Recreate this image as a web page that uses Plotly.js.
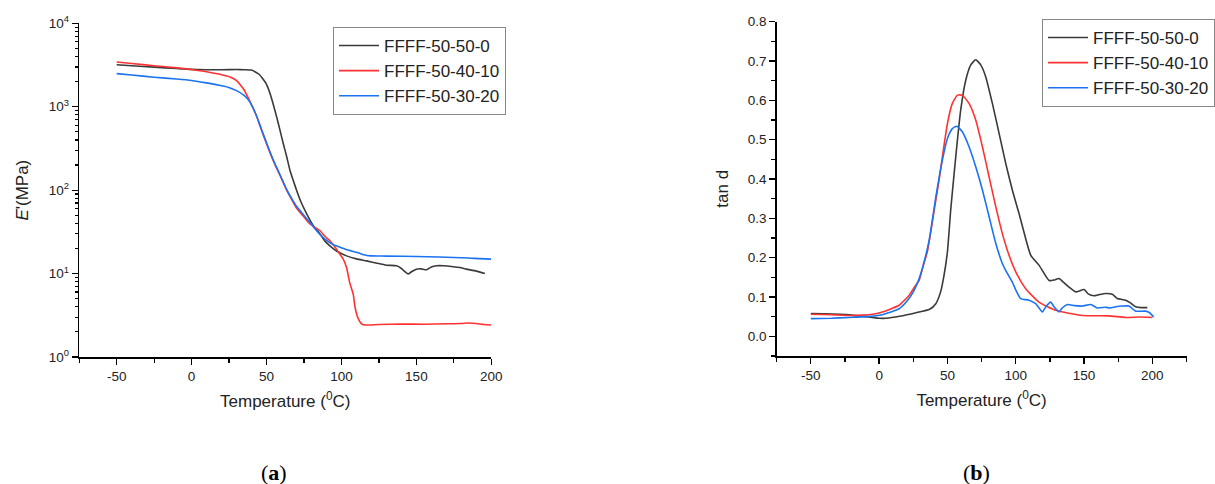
<!DOCTYPE html>
<html>
<head>
<meta charset="utf-8">
<script src="https://cdn.plot.ly/plotly-3.0.1.min.js"></script>
<style>html,body{margin:0;padding:0;background:#fff;}#chart{width:1215px;height:484px;}</style>
</head>
<body>
<div id="chart"></div>
<script>
// ---------- (a) Storage modulus E' (MPa) vs temperature ----------
const seriesNames = ['FFFF-50-50-0', 'FFFF-50-40-10', 'FFFF-50-30-20'];

const eT_50_50_0 = [-50,-40,-25,-10,0,10,20,30,35,40,45,48,50,52,54,56.8,59,61.2,63.5,65.7,68,70.1,73,76.8,81,85.6,89,92.3,97,103.4,110,116.8,123,130,136.8,140,142.5,144.5,147,150,153,156.8,160,163.5,168,174.6,179,183.4,190,195.7];
const eV_50_50_0 = [3190,3100,2980,2870,2800,2780,2780,2790,2780,2750,2450,2100,1850,1500,1150,750,520,360,250,171,128,99,72,52,38,30,24.5,21.5,18.5,16.3,15,14.2,13.4,12.6,12.4,11.5,10.5,9.9,10.6,11.3,11.4,11.1,12,12.4,12.4,12.1,11.8,11.3,10.7,10.0];

const eT_50_40_10 = [-50,-40,-25,-10,0,10,20,25.7,30,32.3,35,38,40.6,43,45.5,48,50.5,53,56,59,63.4,67,70,74.5,78,81,85.7,89,92.3,96.8,99,101.1,103.4,105.5,107.9,109,110.5,112.3,114,116,125,140,155,170,180,185,190,195,200];
const eV_50_40_10 = [3430,3300,3100,2920,2800,2620,2420,2265,2050,1850,1600,1250,1000,800,600,450,340,260,195,150,100,76,61,49,41,37,32.6,28,24.7,19.5,17,15,11.8,7.8,5.6,4.0,3.1,2.65,2.45,2.42,2.45,2.48,2.47,2.5,2.52,2.56,2.52,2.45,2.42];

const eT_50_30_20 = [-50,-40,-25,-10,0,10,20,25.2,30,35,38,40.6,43,45.5,48,50.5,53,56,59,63.4,67,70,74.5,78,81.6,86,90.5,95,99.4,105,110.6,115,119.4,130,150,165,175,185,192,200];
const eV_50_30_20 = [2490,2400,2260,2150,2065,1930,1780,1690,1560,1365,1200,1000,800,610,460,350,268,200,153,102,78,64,51,43,35.7,29,24.7,22,20.6,19,17.9,16.8,16.3,16.2,16.0,15.8,15.6,15.4,15.1,14.9];

// ---------- (b) tan d vs temperature ----------
const tT_50_50_0 = [-50,-40,-29,-20,-10,-5,0,5,15,27,37,41.5,45,47.5,50,52.4,54.9,57.3,59.7,63.4,67.1,70.7,74.4,78,82.9,87.8,92.7,97.5,102.4,106,111,117,124.4,128,131.7,135,139,143.9,150,153,157.3,161,165.8,170.7,174.3,180.5,184,187.8,192,196.3];
const tV_50_50_0 = [0.058,0.057,0.056,0.054,0.050,0.048,0.046,0.046,0.051,0.060,0.069,0.083,0.113,0.155,0.215,0.321,0.414,0.499,0.575,0.651,0.690,0.703,0.690,0.660,0.592,0.516,0.439,0.372,0.312,0.265,0.206,0.181,0.142,0.143,0.147,0.137,0.125,0.113,0.119,0.108,0.103,0.106,0.109,0.107,0.096,0.092,0.085,0.075,0.073,0.073];

const tT_50_40_10 = [-50,-35,-22,-12,-5,2.4,8,14.6,21.9,26.8,29.3,31.7,35.3,38,41.5,44,46.3,50,53.6,57.3,60.9,65.8,70.7,75.6,80.5,85.4,90.2,95.1,100,107.3,117,129.3,148.7,168.2,180.5,190,200];
const tV_50_40_10 = [0.056,0.055,0.053,0.054,0.056,0.062,0.069,0.079,0.104,0.130,0.142,0.172,0.215,0.270,0.346,0.400,0.456,0.541,0.592,0.613,0.613,0.592,0.550,0.482,0.405,0.329,0.261,0.206,0.164,0.121,0.087,0.066,0.053,0.052,0.048,0.049,0.048];

const tT_50_30_20 = [-50,-35,-22,-10,2.4,8,14.6,20,24.4,29.3,32.9,36.6,41.5,46.3,50,53.6,56.8,60.9,65.8,70.7,75.6,80.5,85.4,90.2,93,97.5,100,103.6,109.7,114.6,119.5,122,125.6,128,131.7,134,137.8,143,148.7,154.9,159.7,165.8,169,173.2,178,182.9,187.8,195.1,198,201];
const tV_50_30_20 = [0.045,0.046,0.048,0.050,0.055,0.061,0.070,0.088,0.109,0.147,0.189,0.244,0.354,0.448,0.503,0.528,0.534,0.520,0.482,0.431,0.372,0.304,0.236,0.185,0.165,0.138,0.118,0.096,0.092,0.083,0.062,0.075,0.087,0.075,0.062,0.072,0.081,0.078,0.077,0.081,0.072,0.074,0.072,0.075,0.077,0.077,0.064,0.064,0.060,0.049];

// Axis tick labels
const tempTickVals = [-50, 0, 50, 100, 150, 200];
const tempTickText = ['-50', '0', '50', '100', '150', '200'];
const tanTickVals = [0, 0.1, 0.2, 0.3, 0.4, 0.5, 0.6, 0.7, 0.8];
const tanTickText = ['0.0', '0.1', '0.2', '0.3', '0.4', '0.5', '0.6', '0.7', '0.8'];
const logTickVals = [1, 10, 100, 1000, 10000];
const logTickText = ['10<sup>0</sup>', '10<sup>1</sup>', '10<sup>2</sup>', '10<sup>3</sup>', '10<sup>4</sup>'];
const logMinorVals = [];
for (let d = 0; d < 4; d++) for (let k = 2; k <= 9; k++) logMinorVals.push(k * Math.pow(10, d));

const colors = ['#3a3a3a', '#ff3232', '#1a73f0'];
const FONT = 'Liberation Sans, Arial, sans-serif';

function tr(x, y, i, xa, ya, lg) {
  return {x: x, y: y, name: seriesNames[i], type: 'scatter', mode: 'lines',
    line: {color: colors[i], width: 1.6, shape: 'spline', smoothing: 0.5},
    xaxis: xa, yaxis: ya, legend: lg};
}

const data = [
  tr(eT_50_50_0, eV_50_50_0, 0, 'x', 'y', 'legend'),
  tr(eT_50_40_10, eV_50_40_10, 1, 'x', 'y', 'legend'),
  tr(eT_50_30_20, eV_50_30_20, 2, 'x', 'y', 'legend'),
  tr(tT_50_50_0, tV_50_50_0, 0, 'x2', 'y2', 'legend2'),
  tr(tT_50_40_10, tV_50_40_10, 1, 'x2', 'y2', 'legend2'),
  tr(tT_50_30_20, tV_50_30_20, 2, 'x2', 'y2', 'legend2')
];

const axBase = {showgrid: false, zeroline: false, showline: true, linecolor: '#000', linewidth: 1.5,
  ticks: 'outside', ticklen: 6, tickwidth: 1.3, tickcolor: '#000',
  tickfont: {family: FONT, size: 13.5, color: '#222'}, mirror: false};
const minorX = {dtick: 25, tick0: -75, ticks: 'outside', ticklen: 4, tickwidth: 1.2, tickcolor: '#000', showgrid: false};

const W = 1215, H = 484;
const layout = {
  width: W, height: H,
  margin: {l: 0, r: 0, t: 0, b: 0},
  paper_bgcolor: '#fff', plot_bgcolor: '#fff',
  font: {family: FONT, color: '#222'},
  xaxis: Object.assign({}, axBase, {
    domain: [79.3 / W, 491.7 / W], anchor: 'y', range: [-75, 200],
    tickmode: 'array', tickvals: tempTickVals, ticktext: tempTickText, minor: minorX,
    title: {text: 'Temperature (<sup>0</sup>C)', font: {family: FONT, size: 17, color: '#222'}, standoff: 12}
  }),
  yaxis: Object.assign({}, axBase, {
    domain: [1 - 357 / H, 1 - 23.3 / H], anchor: 'x', type: 'log', range: [0, 4],
    tickmode: 'array', tickvals: logTickVals, ticktext: logTickText,
    minor: {tickmode: 'array', tickvals: logMinorVals, ticks: 'outside', ticklen: 3, tickwidth: 1.2, tickcolor: '#000', showgrid: false},
    title: {text: "<i>E</i>'(MPa)", font: {family: FONT, size: 17, color: '#222'}, standoff: 16}
  }),
  xaxis2: Object.assign({}, axBase, {
    domain: [777.3 / W, 1187.5 / W], anchor: 'y2', range: [-75, 225],
    tickmode: 'array', tickvals: tempTickVals, ticktext: tempTickText, minor: minorX,
    title: {text: 'Temperature (<sup>0</sup>C)', font: {family: FONT, size: 17, color: '#222'}, standoff: 12}
  }),
  yaxis2: Object.assign({}, axBase, {
    domain: [1 - 356 / H, 1 - 21.6 / H], anchor: 'x2', range: [-0.05, 0.8],
    tickmode: 'array', tickvals: tanTickVals, ticktext: tanTickText,
    minor: {dtick: 0.05, tick0: -0.05, ticks: 'outside', ticklen: 4, tickwidth: 1.2, tickcolor: '#000', showgrid: false},
    title: {text: 'tan d', font: {family: FONT, size: 17, color: '#222'}, standoff: 14}
  }),
  legend: {x: 333 / W, y: 1 - 27 / H, xanchor: 'left', yanchor: 'top',
    bgcolor: '#fff', bordercolor: '#888', borderwidth: 1,
    font: {family: FONT, size: 17, color: '#222'}, tracegroupgap: 0, itemwidth: 40},
  legend2: {x: 1043 / W, y: 1 - 19 / H, xanchor: 'left', yanchor: 'top',
    bgcolor: '#fff', bordercolor: '#888', borderwidth: 1,
    font: {family: FONT, size: 17, color: '#222'}, tracegroupgap: 0, itemwidth: 40},
  annotations: [
    {text: '(<b>a</b>)', x: 274 / W, y: 1 - 472 / H, xref: 'paper', yref: 'paper', showarrow: false,
      xanchor: 'center', yanchor: 'middle', font: {family: 'Liberation Serif, DejaVu Serif, serif', size: 22, color: '#000'}},
    {text: '(<b>b</b>)', x: 977 / W, y: 1 - 472 / H, xref: 'paper', yref: 'paper', showarrow: false,
      xanchor: 'center', yanchor: 'middle', font: {family: 'Liberation Serif, DejaVu Serif, serif', size: 22, color: '#000'}}
  ],
  showlegend: true
};

Plotly.newPlot('chart', data, layout, {staticPlot: true, displayModeBar: false});
</script>
</body>
</html>
